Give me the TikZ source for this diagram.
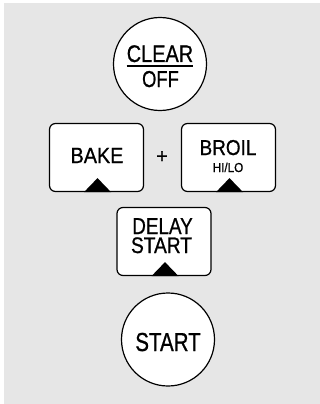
\documentclass[tikz,border=0pt]{standalone}
\usepackage{fontspec}
\usepackage{graphicx}
\setmainfont{Liberation Sans}[FakeBold=0.8]
\newfontfamily\keyfont{Liberation Sans}[FakeBold=0.8]
\usetikzlibrary{calc}
\definecolor{panel}{RGB}{230,230,230}
\newcommand{\lbltext}[3]{\keyfont\fontsize{#1}{#1}\selectfont\scalebox{#2}[1]{#3}}
\begin{document}
\begin{tikzpicture}[x=1pt,y=-1pt,
  keybox/.style={draw=black, line width=1.2pt, fill=white, rounded corners=6pt,
    minimum width=94pt, minimum height=68pt, inner sep=0pt},
  roundkey/.style={draw=black, line width=1.2pt, fill=white, circle,
    minimum size=93pt, inner sep=0pt},
  lbl/.style={inner sep=0pt, anchor=base, text=black},
  tri/.style={fill=black}]
\useasboundingbox (0,0) rectangle (320,404);
\fill[panel] (4,3) rectangle (320,404);

% CLEAR / OFF
\node[roundkey] (clear) at (160,64) {};
\node[lbl] (cleartxt) at (160,62) {\lbltext{24}{0.83}{CLEAR}};
\node[lbl] (offtxt) at (160.5,87) {\lbltext{23}{0.8}{OFF}};
\draw[line width=1.3pt] ([yshift=-4pt]cleartxt.base west) -- ([yshift=-4pt]cleartxt.base east);

% BAKE + BROIL
\node[keybox] (bake) at (96.5,157.5) {};
\node[lbl] (baketxt) at (97,163) {\lbltext{22}{0.9}{BAKE}};
\fill[tri] ($(bake.south)+(-12.5,0)$) -- ($(bake.south)+(1,-14)$) -- ($(bake.south)+(14.5,0)$) -- cycle;

\node[inner sep=0pt] (plus) at (162,157) {\keyfont\fontsize{20}{20}\selectfont +};

\node[keybox] (broil) at (228.5,157.5) {};
\node[lbl] (broiltxt) at (228,155) {\lbltext{21.5}{0.88}{BROIL}};
\node[lbl] (hilotxt) at (228,172) {\lbltext{13}{0.9}{HI/LO}};
\fill[tri] ($(broil.south)+(-12.5,0)$) -- ($(broil.south)+(1,-14)$) -- ($(broil.south)+(14.5,0)$) -- cycle;

% DELAY START
\node[keybox] (delay) at (164,241.5) {};
\node[lbl] (delaytxt) at (162.5,234) {\lbltext{23}{0.82}{DELAY}};
\node[lbl] (dstarttxt) at (161.5,253) {\lbltext{22.5}{0.85}{START}};
\fill[tri] ($(delay.south)+(-12.5,0)$) -- ($(delay.south)+(1,-14)$) -- ($(delay.south)+(14.5,0)$) -- cycle;

% START
\node[roundkey] (start) at (168,339.5) {};
\node[lbl] (starttxt) at (168,351) {\lbltext{26}{0.79}{START}};
\end{tikzpicture}
\end{document}
